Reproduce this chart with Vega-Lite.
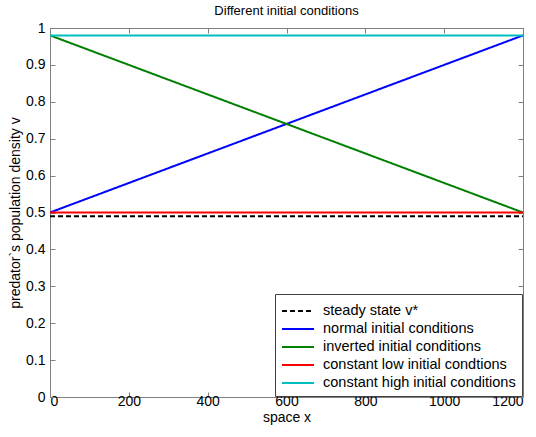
{
  "$schema": "https://vega.github.io/schema/vega-lite/v6.json",
  "autosize": "none",
  "width": 473,
  "height": 369,
  "padding": {"left": 50, "top": 28, "right": 13, "bottom": 40},
  "background": "white",
  "title": {"text": "Different initial conditions", "font": "Liberation Sans", "fontSize": 13, "fontWeight": "normal", "color": "black", "offset": 3},
  "config": {
    "view": {"stroke": "#808080", "strokeWidth": 1},
    "axis": {"grid": false, "domain": false, "tickColor": "#808080", "tickSize": -5, "labelFont": "Liberation Sans", "labelFontSize": 14, "labelColor": "black", "titleFont": "Liberation Sans", "titleFontSize": 14, "titleFontWeight": "normal", "titleColor": "black"}
  },
  "data": {"values": [
    {"series": "steady state v*", "x": 0, "v": 0.49},
    {"series": "steady state v*", "x": 1200, "v": 0.49},
    {"series": "normal initial conditions", "x": 0, "v": 0.5},
    {"series": "normal initial conditions", "x": 1200, "v": 0.98},
    {"series": "inverted initial conditions", "x": 0, "v": 0.98},
    {"series": "inverted initial conditions", "x": 1200, "v": 0.5},
    {"series": "constant low initial condtions", "x": 0, "v": 0.5},
    {"series": "constant low initial condtions", "x": 1200, "v": 0.5},
    {"series": "constant high initial conditions", "x": 0, "v": 0.98},
    {"series": "constant high initial conditions", "x": 1200, "v": 0.98}
  ]},
  "layer": [
    {
      "mark": {"type": "line", "strokeWidth": 2, "clip": true},
      "encoding": {
        "x": {"field": "x", "type": "quantitative", "scale": {"domain": [0, 1200], "nice": false}, "axis": {"title": "space x", "format": "d", "values": [0, 200, 400, 600, 800, 1000, 1200], "labelPadding": 2, "titlePadding": 2}},
        "y": {"field": "v", "type": "quantitative", "scale": {"domain": [0, 1], "nice": false}, "axis": {"title": "predator`s population density v", "values": [0, 0.1, 0.2, 0.3, 0.4, 0.5, 0.6, 0.7, 0.8, 0.9, 1], "labelExpr": "datum.value == 0 || datum.value == 1 ? format(datum.value, 'd') : format(datum.value, '.1f')", "labelPadding": 10, "titlePadding": 3}},
        "detail": {"field": "series"},
        "color": {"field": "series", "type": "nominal", "sort": null,
          "scale": {"domain": ["steady state v*", "normal initial conditions", "inverted initial conditions", "constant low initial condtions", "constant high initial conditions"],
                    "range": ["black", "#0000FF", "#008000", "#FF0000", "#00BFBF"]},
          "legend": {"title": null, "orient": "bottom-right", "offset": 1, "fillColor": "white", "strokeColor": "#404040", "padding": 6, "symbolType": "M-1.6,0H1.6", "symbolSize": 400, "symbolOffset": 6, "symbolStrokeWidth": 2, "labelFont": "Liberation Sans", "labelFontSize": 14.5, "labelColor": "black", "labelLimit": 400, "rowPadding": -1, "labelOffset": 14}},
        "strokeDash": {"field": "series", "type": "nominal", "sort": null,
          "scale": {"domain": ["steady state v*", "normal initial conditions", "inverted initial conditions", "constant low initial condtions", "constant high initial conditions"],
                    "range": [[5, 3], [1, 0], [1, 0], [1, 0], [1, 0]]},
          "legend": {"title": null, "orient": "bottom-right", "offset": 1, "fillColor": "white", "strokeColor": "#404040", "padding": 6, "symbolType": "M-1.6,0H1.6", "symbolSize": 400, "symbolOffset": 6, "symbolStrokeWidth": 2, "labelFont": "Liberation Sans", "labelFontSize": 14.5, "labelColor": "black", "labelLimit": 400, "rowPadding": -1, "labelOffset": 14}}
      }
    },
    {
      "mark": {"type": "point", "opacity": 0},
      "encoding": {
        "x": {"field": "x", "type": "quantitative", "scale": {"domain": [0, 1200], "nice": false}, "axis": {"orient": "top", "labels": false, "title": null, "values": [0, 200, 400, 600, 800, 1000, 1200]}},
        "y": {"field": "v", "type": "quantitative", "scale": {"domain": [0, 1], "nice": false}, "axis": {"orient": "right", "labels": false, "title": null, "values": [0, 0.1, 0.2, 0.3, 0.4, 0.5, 0.6, 0.7, 0.8, 0.9, 1]}}
      }
    }
  ],
  "resolve": {"axis": {"x": "independent", "y": "independent"}}
}
